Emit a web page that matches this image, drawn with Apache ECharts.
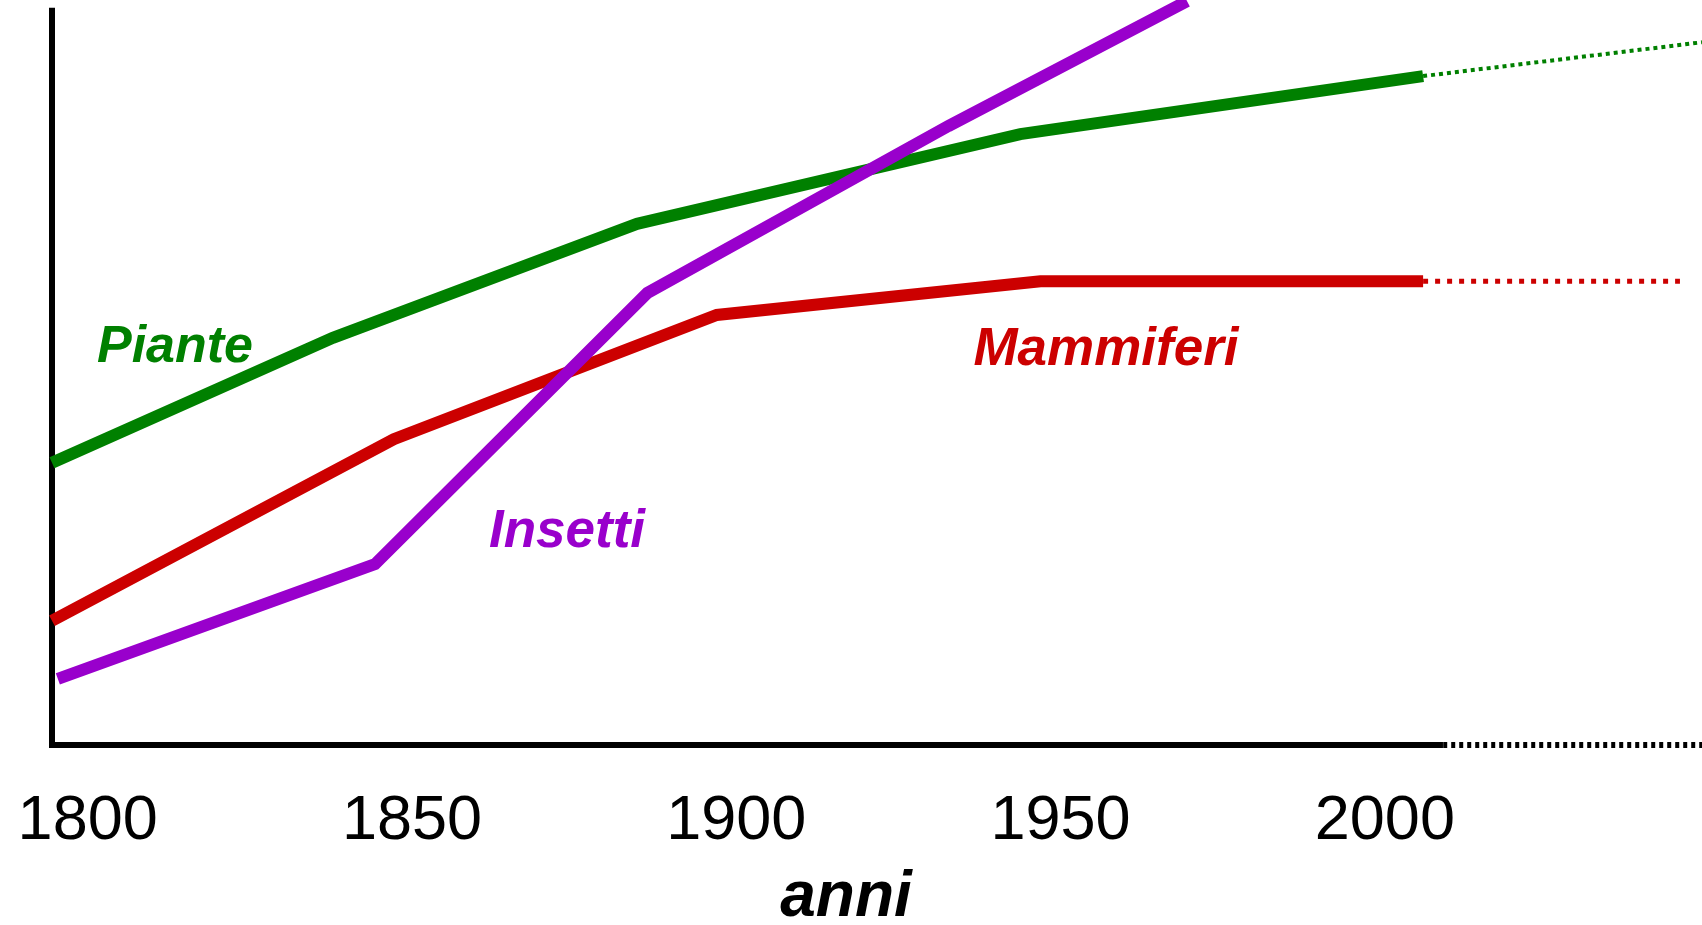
<!DOCTYPE html>
<html>
<head>
<meta charset="utf-8">
<script src="https://cdn.jsdelivr.net/npm/echarts@6/dist/echarts.min.js"></script>
<style>
html,body{margin:0;padding:0;background:#fff;}
#chart{width:1702px;height:925px;}
</style>
</head>
<body>
<div id="chart"></div>
<script>
// ---- data (years on x, arbitrary relative amount on y) ----
const tickYears = [1800, 1850, 1900, 1950, 2000];

const pianteYears   = [1794.5, 1837.8, 1884.7, 1943.8, 2005.9];
const pianteValues  = [38.4, 55.4, 70.9, 83.1, 91.0];
const pianteProjYears  = [2005.9, 2048.9];
const pianteProjValues = [91.0, 95.6];

const mammiferiYears  = [1794.5, 1847.2, 1897.0, 1946.9, 2005.9];
const mammiferiValues = [16.9, 41.6, 58.5, 63.1, 63.1];
const mammiferiProjYears  = [2005.9, 2045.5];
const mammiferiProjValues = [63.1, 63.1];

const insettiYears  = [1795.4, 1844.3, 1886.3, 1932.7, 1969.5];
const insettiValues = [9.0, 24.6, 61.5, 84.2, 101.2];

// axis lines (solid part, dotted extension into the future)
const xAxisLineYears  = [1794.5, 2008.5];
const xAxisLineValues = [0, 0];
const xAxisExtYears   = [2009, 2048.9];
const xAxisExtValues  = [0, 0];
const yAxisLineYears  = [1794.5, 1794.5];
const yAxisLineValues = [0, 99.9];

const labels = { piante: 'Piante', mammiferi: 'Mammiferi', insetti: 'Insetti', axis: 'anni' };

// ---- build ----
const zip = (xs, ys) => xs.map((x, i) => [x, ys[i]]);
const FONT = "'Liberation Sans', Arial, Helvetica, sans-serif";
const GREEN = '#008000', RED = '#cc0000', PURPLE = '#9900cc';

const chart = echarts.init(document.getElementById('chart'), null, { renderer: 'canvas' });

function line(name, data, color, width, type, cap) {
  return {
    type: 'line', name, data, showSymbol: false, clip: false, silent: true,
    lineStyle: { color, width, type: type || 'solid', cap: cap || 'butt', join: 'miter' }
  };
}

chart.setOption({
  animation: false,
  backgroundColor: '#ffffff',
  grid: { left: 52, right: 0, top: 0, bottom: 180, containLabel: false },
  xAxis: {
    type: 'value', min: 1794.5, max: 2048.9,
    axisLine: { show: false },
    axisTick: { show: false },
    splitLine: { show: false },
    axisLabel: {
      customValues: tickYears,
      formatter: v => String(Math.round(v)),
      color: '#000', fontSize: 63, fontFamily: FONT, margin: 45
    }
  },
  yAxis: {
    type: 'value', min: 0, max: 101.35,
    axisLine: { show: false },
    axisTick: { show: false },
    axisLabel: { show: false },
    splitLine: { show: false }
  },
  series: [
    line('asse x', zip(xAxisLineYears, xAxisLineValues), '#000', 6, 'solid', 'square'),
    line('asse x futuro', zip(xAxisExtYears, xAxisExtValues), '#000', 6, [4, 4]),
    line('asse y', zip(yAxisLineYears, yAxisLineValues), '#000', 6, 'solid', 'square'),
    line('Piante', zip(pianteYears, pianteValues), GREEN, 12),
    line('Piante proiezione', zip(pianteProjYears, pianteProjValues), GREEN, 4, [4, 4]),
    line('Mammiferi', zip(mammiferiYears, mammiferiValues), RED, 12),
    line('Mammiferi proiezione', zip(mammiferiProjYears, mammiferiProjValues), RED, 5, [5, 7]),
    line('Insetti', zip(insettiYears, insettiValues), PURPLE, 12)
  ],
  graphic: [
    { type: 'text', x: 175, y: 348, silent: true,
      style: { text: labels.piante, fill: GREEN, font: `italic bold 52px ${FONT}`, textAlign: 'center', textVerticalAlign: 'middle' } },
    { type: 'text', x: 567, y: 532, silent: true,
      style: { text: labels.insetti, fill: PURPLE, font: `italic bold 53px ${FONT}`, textAlign: 'center', textVerticalAlign: 'middle' } },
    { type: 'text', x: 1106, y: 350, silent: true,
      style: { text: labels.mammiferi, fill: RED, font: `italic bold 53px ${FONT}`, textAlign: 'center', textVerticalAlign: 'middle' } },
    { type: 'text', x: 846, y: 898, silent: true,
      style: { text: labels.axis, fill: '#000', font: `italic bold 64px ${FONT}`, textAlign: 'center', textVerticalAlign: 'middle' } }
  ]
});
</script>
</body>
</html>
